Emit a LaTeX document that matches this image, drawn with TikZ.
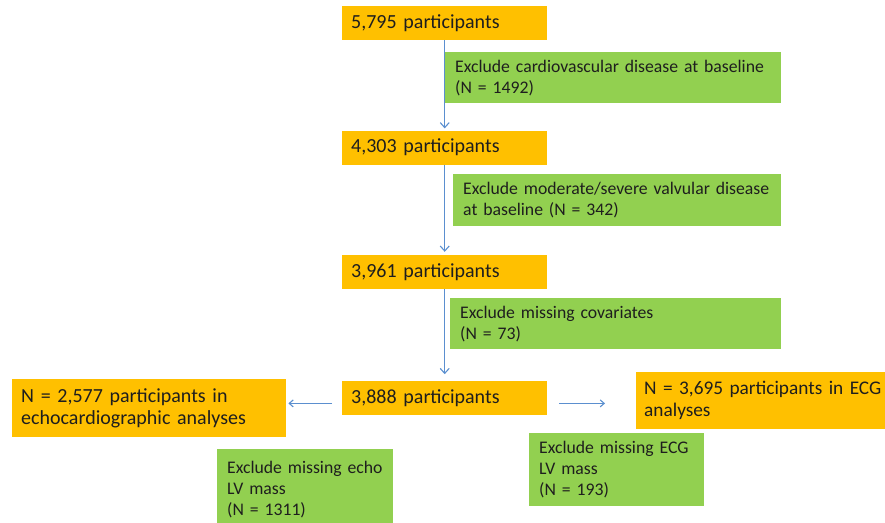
\documentclass[tikz,border=0pt]{standalone}
\usepackage{fontspec}
\setmainfont{Carlito}
\usetikzlibrary{calc, arrows.meta, positioning}

\definecolor{boxorange}{HTML}{FFC000}
\definecolor{boxgreen}{HTML}{92D050}
\definecolor{arrowblue}{HTML}{5B8FCF}
\definecolor{textgrey}{HTML}{1E1E1E}

\begin{document}
\begin{tikzpicture} [x=1pt, y=-1pt, node distance=90pt,
		% define styles
		countnodestyle/.style={
			% The shape:
			rectangle,
			% The size:
			minimum height=34pt,
			text width=187pt,
			inner xsep=9pt,
			% The filling:
			fill=boxorange,
			% Text
			align=left,
			text=textgrey,
			% Font
			font=\fontsize{20}{22}\selectfont
		},
		resultnodestyle/.style={
			% The shape:
			rectangle,
			% The size:
			minimum height=57pt,
			inner xsep=9pt,
			% The filling:
			fill=boxorange,
			% Text
			align=left,
			text=textgrey,
			anchor=north west,
			% Font
			font=\fontsize{20}{22}\selectfont
		},
		excludenodestyle/.style={
			% The shape:
			rectangle,
			% The size:
			minimum height=51pt,
			inner xsep=10pt,
			% The filling:
			fill=boxgreen,
			% Text
			align=left,
			text=textgrey,
			anchor=north west,
			% Font
			font=\fontsize{17.7}{21}\selectfont
		},
		arrow/.style={
			->,
			% Thickness
			line width=1.1pt,
			>={Straight Barb[length=5pt,width=9pt]},
			% Color
			arrowblue
		},
		arrowside/.style={
			->,
			% Thickness
			line width=1.1pt,
			>={Straight Barb[length=4pt,width=7pt]},
			% Color
			arrowblue
		}]
		% end of style definition

		\useasboundingbox (0,0) rectangle (885,522);
		\clip (0,0) rectangle (885,522);

		% draw nodes
		\node (iStart) [countnodestyle, anchor=north west] at (342,6) {5,795 participants};
		\node (iNoCvd) [countnodestyle, below = of iStart] {4,303 participants};
		\node (iNoValve) [countnodestyle, below = of iNoCvd] {3,961 participants};
		\node (iFinal) [countnodestyle, below = 92pt of iNoValve] {3,888 participants};

		\node (iEcho) [resultnodestyle, text width=256pt, minimum height=58pt] at (12,379) {N = 2,577 participants in\\echocardiographic analyses};
		\node (iEcg) [resultnodestyle, text width=250pt, inner xsep=8pt, font=\fontsize{19.3}{22}\selectfont] at (636,372) {N = 3,695 participants in ECG\\analyses};

		\node (iExclCvd) [excludenodestyle, text width=316pt] at (445,52) {Exclude cardiovascular disease at baseline\\(N = 1492)};
		\node (iExclValve) [excludenodestyle, text width=308pt, minimum height=52pt] at (453,174) {Exclude moderate/severe valvular disease\\at baseline (N = 342)};
		\node (iExclCov) [excludenodestyle, text width=311pt] at (450,298) {Exclude missing covariates\\(N = 73)};
		\node (iExclEcho) [excludenodestyle, text width=156pt, minimum height=80pt] at (217,449) {Exclude missing echo\\LV mass\\(N = 1311)};
		\node (iExclEcg) [excludenodestyle, text width=155pt, minimum height=73pt] at (529,433) {Exclude missing ECG\\LV mass\\(N = 193)};

		% connect nodes
		\draw [arrow, shorten >=2pt] (iStart) -- (iNoCvd);
		\draw [arrow, shorten >=3pt] (iNoCvd) -- (iNoValve);
		\draw [arrow, shorten >=7pt] (iNoValve) -- (iFinal);

		\draw [arrowside, shorten <=10pt, shorten >=2pt] ([yshift=-5pt]iFinal.west) -- ([yshift=-5pt]iFinal.west -| iEcho.east);
		\draw [arrowside, shorten <=12pt, shorten >=31pt] ([yshift=-5pt]iFinal.east) -- ([yshift=-5pt]iFinal.east -| iEcg.west);
	\end{tikzpicture}
\end{document}
